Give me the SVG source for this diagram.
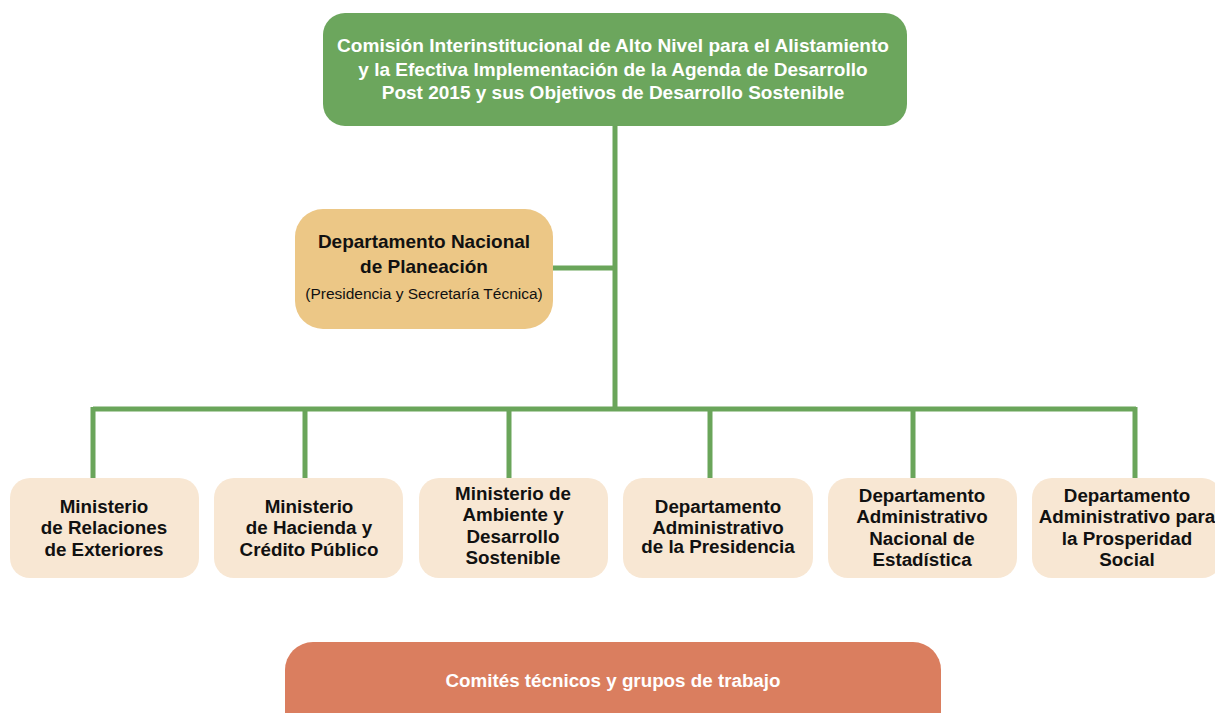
<svg xmlns="http://www.w3.org/2000/svg" width="1215" height="713" viewBox="0 0 1215 713">
<style>
text{font-family:"Liberation Sans Narrow","Liberation Sans",Arial,sans-serif;text-anchor:middle;font-weight:bold;font-size:19px}
.w{fill:#ffffff}
.k{fill:#111111}
.b{font-size:18.8px}
.n{font-weight:normal;font-size:15.5px}
.conn{stroke:#6aa55a;stroke-width:5;fill:none}
.sub{fill:#f8e7d3}
</style>
<rect width="1215" height="713" fill="#ffffff"/>
<g id="connectors">
<path class="conn" d="M615 126V409M553 268H615M93 409H1136M93 407V478M305 407V478M509 407V478M710 407V478M913 407V478M1135 407V478"/>
</g>
<g id="comision">
<rect x="323" y="13" width="584" height="113" rx="22" fill="#6ca65d"/>
<text class="w" x="613" y="52" textLength="552" lengthAdjust="spacingAndGlyphs">Comisión Interinstitucional de Alto Nivel para el Alistamiento</text>
<text class="w" x="613" y="76">y la Efectiva Implementación de la Agenda de Desarrollo</text>
<text class="w" x="613" y="99">Post 2015 y sus Objetivos de Desarrollo Sostenible</text>
</g>
<g id="dnp">
<rect x="295" y="209" width="258" height="120" rx="28" fill="#ecc786"/>
<text class="k" x="424" y="248">Departamento Nacional</text>
<text class="k" x="424" y="273">de Planeación</text>
<text class="k n" x="424" y="299">(Presidencia y Secretaría Técnica)</text>
</g>
<g id="mre">
<rect class="sub" x="10" y="478" width="189" height="100" rx="20"/>
<text class="k b" x="104" y="513">Ministerio</text>
<text class="k b" x="104" y="534">de Relaciones</text>
<text class="k b" x="104" y="556">de Exteriores</text>
</g>
<g id="mhcp">
<rect class="sub" x="214" y="478" width="189" height="100" rx="20"/>
<text class="k b" x="309" y="513">Ministerio</text>
<text class="k b" x="309" y="534">de Hacienda y</text>
<text class="k b" x="309" y="556">Crédito Público</text>
</g>
<g id="mads">
<rect class="sub" x="419" y="478" width="189" height="100" rx="20"/>
<text class="k b" x="513" y="500">Ministerio de</text>
<text class="k b" x="513" y="521">Ambiente y</text>
<text class="k b" x="513" y="543">Desarrollo</text>
<text class="k b" x="513" y="564">Sostenible</text>
</g>
<g id="dapre">
<rect class="sub" x="623" y="478" width="190" height="100" rx="20"/>
<text class="k b" x="718" y="513">Departamento</text>
<text class="k b" x="718" y="534">Administrativo</text>
<text class="k b" x="718" y="553">de la Presidencia</text>
</g>
<g id="dane">
<rect class="sub" x="828" y="478" width="189" height="100" rx="20"/>
<text class="k b" x="922" y="502">Departamento</text>
<text class="k b" x="922" y="523">Administrativo</text>
<text class="k b" x="922" y="545">Nacional de</text>
<text class="k b" x="922" y="566">Estadística</text>
</g>
<g id="dps">
<rect class="sub" x="1032" y="478" width="190" height="100" rx="20"/>
<text class="k b" x="1127" y="502">Departamento</text>
<text class="k b" x="1127" y="523">Administrativo para</text>
<text class="k b" x="1127" y="545">la Prosperidad</text>
<text class="k b" x="1127" y="566">Social</text>
</g>
<g id="comites">
<rect x="285" y="642" width="656" height="100" rx="28" fill="#da7e5f"/>
<text class="w b" x="613" y="687">Comités técnicos y grupos de trabajo</text>
</g>
</svg>
